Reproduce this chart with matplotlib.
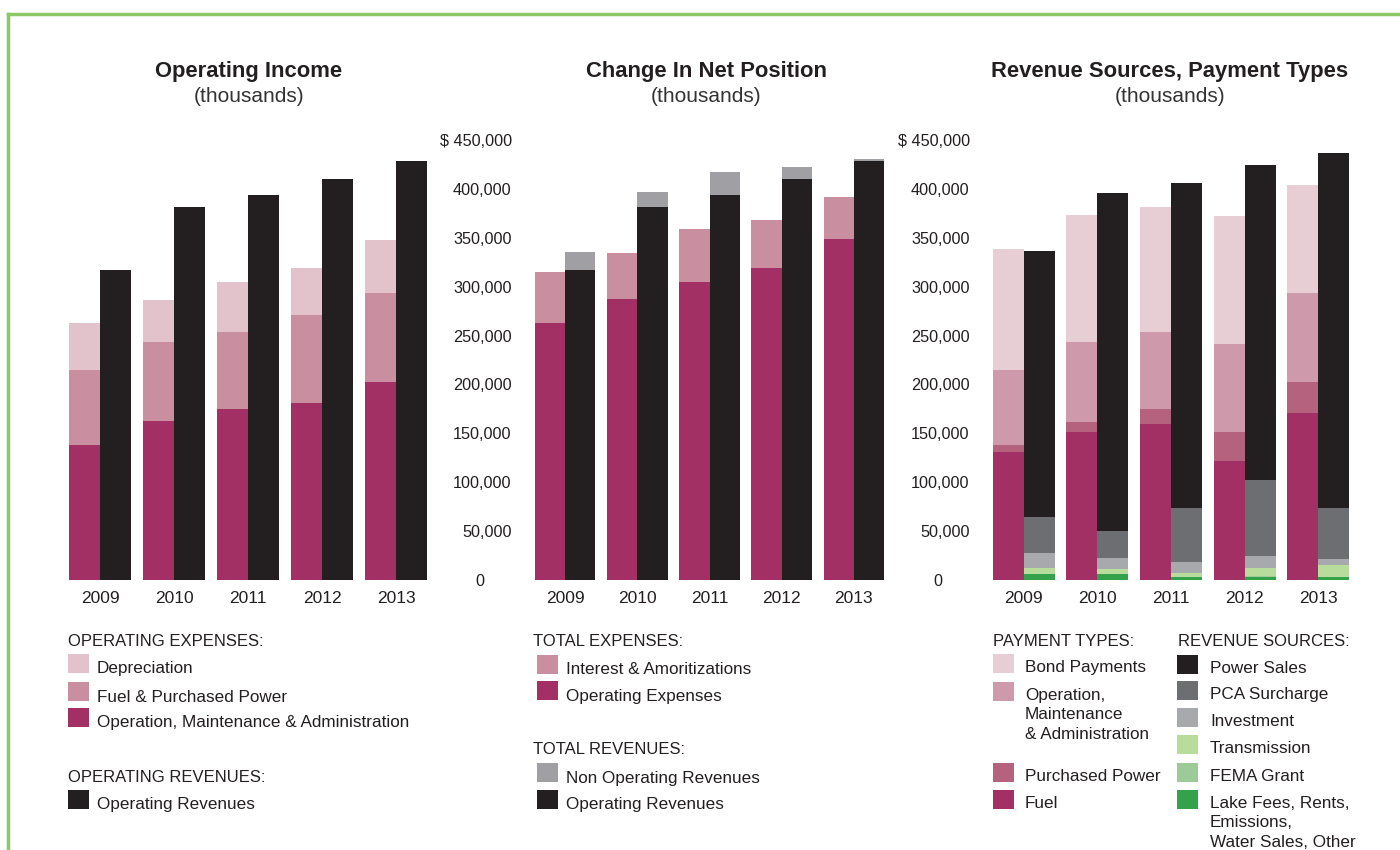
import matplotlib.pyplot as plt
from matplotlib.patches import Rectangle
from matplotlib.lines import Line2D

plt.rcParams['font.family'] = ['Liberation Sans', 'DejaVu Sans']

W, H = 1400, 850

years = ['2009', '2010', '2011', '2012', '2013']

# Operating Income (thousands)
oi_oma = [138000, 163000, 175000, 181000, 202000]
oi_fuel = [77000, 80000, 79000, 90000, 92000]
oi_dep = [48000, 43000, 51000, 48000, 54000]
oi_rev = [317000, 381000, 394000, 410000, 429000]

# Change In Net Position (thousands)
np_opex = [263000, 287000, 305000, 319000, 349000]
np_interest = [52000, 47000, 54000, 49000, 43000]
np_oprev = [317000, 381000, 394000, 410000, 429000]
np_nonop = [18000, 16000, 23000, 12000, 2000]

# Payment types (thousands)
pt_fuel = [131000, 151000, 160000, 122000, 171000]
pt_pp = [7000, 11000, 15000, 29000, 31000]
pt_oma = [77000, 81000, 79000, 90000, 92000]
pt_bond = [124000, 130000, 127000, 131000, 110000]

# Revenue sources (thousands)
rs_lake = [6000, 6000, 3000, 3000, 3000]
rs_fema = [0, 0, 0, 1000, 0]
rs_trans = [6000, 5000, 4000, 8000, 12000]
rs_invest = [15500, 11500, 11500, 12500, 6500]
rs_pca = [37000, 27500, 55000, 77500, 52000]
rs_power = [271500, 346000, 332500, 322000, 363500]

yticks = list(range(0, 450001, 50000))
ytick_labels = ['0      '] + [f'{v:,}' for v in yticks[1:-1]] + ['$ 450,000']

# colours
MAG = '#a33065'
PINK = '#c98fa0'
PINK3 = '#ce9aab'
LIGHT = '#e3c3cb'
LIGHT3 = '#e7ced5'
PP = '#b5627e'
BLACK = '#231f20'
NONOP = '#a0a0a4'
PCA = '#6d6e71'
INVEST = '#a8a9ad'
TRANS = '#b8dc9b'
FEMA = '#9dcb97'
LAKE = '#33a24a'
TXT = '#231f20'

fig = plt.figure(figsize=(W / 100, H / 100), dpi=100)

bw = 0.42
x = list(range(len(years)))


def stack(ax, xs, series, colors):
    bottom = [0] * len(xs)
    for vals, c in zip(series, colors):
        ax.bar(xs, vals, bw, bottom=bottom, color=c, linewidth=0)
        bottom = [b + v for b, v in zip(bottom, vals)]


def make_ax(left_px, right_px, show_y):
    y0 = 1 - 580 / H
    y1 = 1 - 140 / H
    ax = fig.add_axes([left_px / W, y0, (right_px - left_px) / W, y1 - y0])
    ax.set_xlim(-0.5, 4.5)
    ax.set_ylim(0, 450000)
    for s in ax.spines.values():
        s.set_visible(False)
    ax.set_xticks(x)
    ax.set_xticklabels(years, fontsize=12.5, color=TXT)
    ax.tick_params(axis='x', length=0, pad=8)
    if show_y:
        ax.set_yticks(yticks)
        ax.set_yticklabels(ytick_labels, fontsize=11.7, color=TXT)
        ax.tick_params(axis='y', length=0, pad=12.5)
    else:
        ax.set_yticks([])
    return ax


left = [i - bw / 2 for i in x]
right = [i + bw / 2 for i in x]

ax1 = make_ax(63, 433, False)
stack(ax1, left, [oi_oma, oi_fuel, oi_dep], [MAG, PINK, LIGHT])
stack(ax1, right, [oi_rev], [BLACK])

ax2 = make_ax(529, 890, True)
stack(ax2, left, [np_opex, np_interest], [MAG, PINK])
stack(ax2, right, [np_oprev, np_nonop], [BLACK, NONOP])

ax3 = make_ax(987, 1355, True)
stack(ax3, left, [pt_fuel, pt_pp, pt_oma, pt_bond], [MAG, PP, PINK3, LIGHT3])
stack(ax3, right, [rs_lake, rs_fema, rs_trans, rs_invest, rs_pca, rs_power],
      [LAKE, FEMA, TRANS, INVEST, PCA, BLACK])


def ftext(px, py, s, **kw):
    kw.setdefault('fontsize', 12.3)
    kw.setdefault('color', TXT)
    kw.setdefault('va', 'center')
    fig.text(px / W, 1 - py / H, s, **kw)


def header(px, py, s):
    ftext(px, py, s, fontsize=12)


def swatch(px, py_top, color):
    fig.add_artist(Rectangle((px / W, 1 - (py_top + 19) / H), 21 / W, 19 / H,
                             transform=fig.transFigure, color=color, lw=0))


# titles
for cx, title in [(249, 'Operating Income'), (706, 'Change In Net Position'),
                  (1170, 'Revenue Sources, Payment Types')]:
    ftext(cx, 71, title, fontsize=15.8, fontweight='bold', ha='center')
    ftext(cx, 97, '(thousands)', fontsize=15, ha='center', color='#333333')

# legend panel 1
header(68, 642, 'OPERATING EXPENSES:')
for py, c, s in [(654, LIGHT, 'Depreciation'), (682, PINK, 'Fuel & Purchased Power'),
                 (708, MAG, 'Operation, Maintenance & Administration')]:
    swatch(68, py, c)
    ftext(97, py + 15, s)
header(68, 777, 'OPERATING REVENUES:')
swatch(68, 790, BLACK)
ftext(97, 805, 'Operating Revenues')

# legend panel 2
header(533, 642, 'TOTAL EXPENSES:')
for py, c, s in [(655, PINK, 'Interest & Amoritizations'), (681, MAG, 'Operating Expenses'),
                 (763, NONOP, 'Non Operating Revenues'), (790, BLACK, 'Operating Revenues')]:
    swatch(537, py, c)
    ftext(566, py + 15, s)
header(533, 749, 'TOTAL REVENUES:')

# legend panel 3
header(993, 642, 'PAYMENT TYPES:')
for py, c, s in [(654, LIGHT3, 'Bond Payments'),
                 (682, PINK3, 'Operation,\nMaintenance\n& Administration'),
                 (763, PP, 'Purchased Power'), (790, MAG, 'Fuel')]:
    swatch(993, py, c)
    ftext(1025, py + 6, s, va='top', linespacing=1.36)
header(1178, 642, 'REVENUE SOURCES:')
for py, c, s in [(655, BLACK, 'Power Sales'), (681, PCA, 'PCA Surcharge'),
                 (708, INVEST, 'Investment'), (735, TRANS, 'Transmission'),
                 (763, FEMA, 'FEMA Grant'),
                 (790, LAKE, 'Lake Fees, Rents,\nEmissions,\nWater Sales, Other')]:
    swatch(1177, py, c)
    ftext(1210, py + 6, s, va='top', linespacing=1.36)

# green frame
GREEN = '#8cc863'
fig.add_artist(Line2D([8 / W, 1], [1 - 14 / H, 1 - 14 / H], transform=fig.transFigure,
                      color=GREEN, lw=2.5))
fig.add_artist(Line2D([8 / W, 8 / W], [0, 1 - 14 / H], transform=fig.transFigure,
                      color=GREEN, lw=2.5))

fig.savefig('out.png', dpi=100)
